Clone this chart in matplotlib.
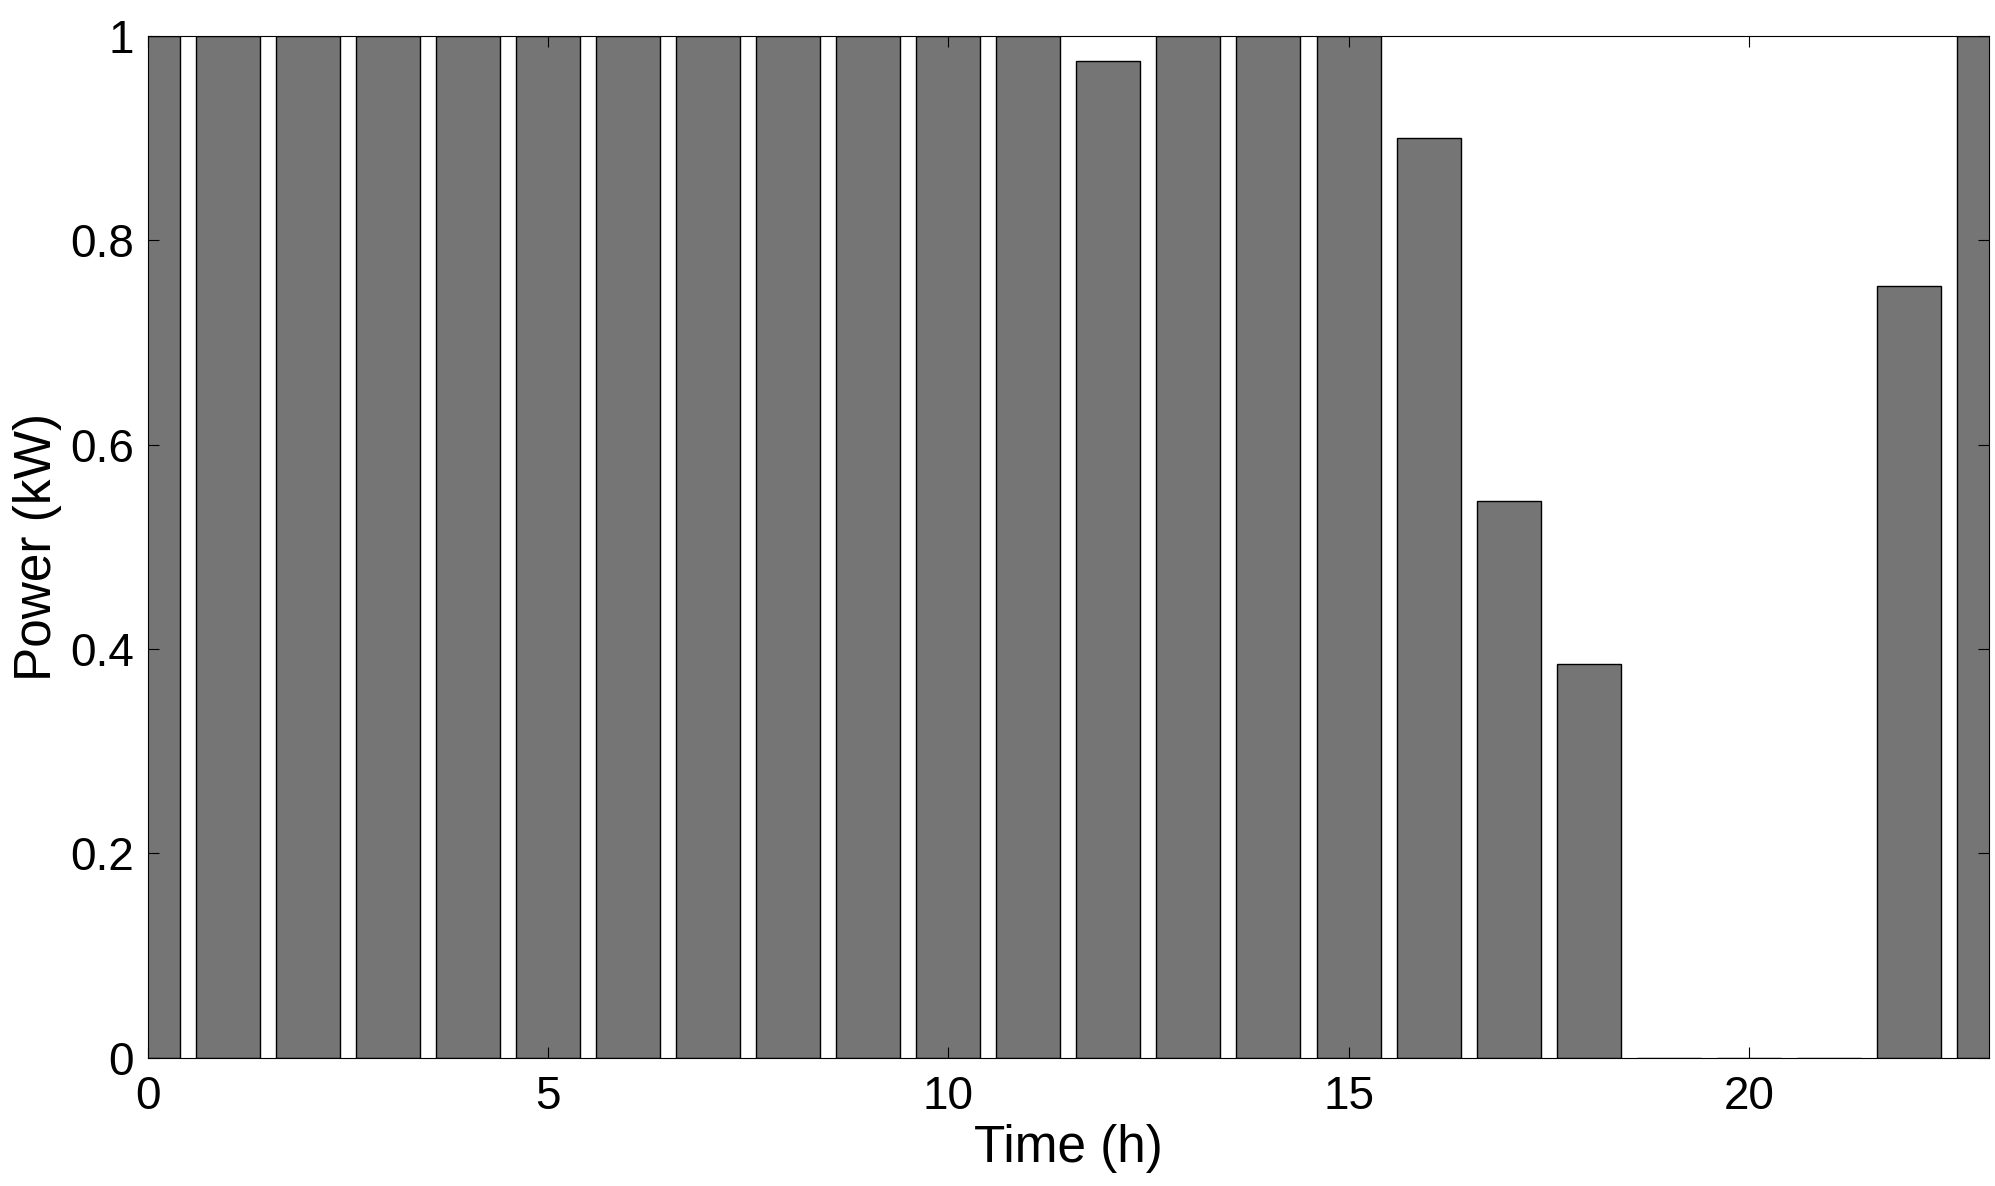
import matplotlib
matplotlib.use("Agg")
import matplotlib.pyplot as plt

hours = list(range(24))
power = [1, 1, 1, 1, 1, 1, 1, 1, 1, 1, 1, 1, 0.975, 1, 1, 1, 0.9, 0.545, 0.385, 0, 0, 0, 0.755, 1]
xticks = [0, 5, 10, 15, 20]
yticks = [0, 0.2, 0.4, 0.6, 0.8, 1]

plt.rcParams['font.family'] = ['Liberation Sans', 'DejaVu Sans']
fig = plt.figure(figsize=(19.95, 11.86), dpi=100)
ax = fig.add_axes([0.074, 0.108, 0.923, 0.862])
ax.bar(hours, power, width=0.8, color='#757575', edgecolor='black', linewidth=1)
ax.set_xlim(0, 23)
ax.set_ylim(0, 1)
ax.set_xticks(xticks)
ax.set_yticks(yticks)
ax.set_yticklabels(['0', '0.2', '0.4', '0.6', '0.8', '1'])
ax.tick_params(direction='in', labelsize=33, length=8, top=True, right=True)
ax.tick_params(axis='y', pad=10)
ax.tick_params(axis='x', pad=12)
ax.set_xlabel('Time (h)', fontsize=37, labelpad=4)
ax.set_ylabel('Power (kW)', fontsize=37, labelpad=6)
fig.savefig('out.png', dpi=100)
